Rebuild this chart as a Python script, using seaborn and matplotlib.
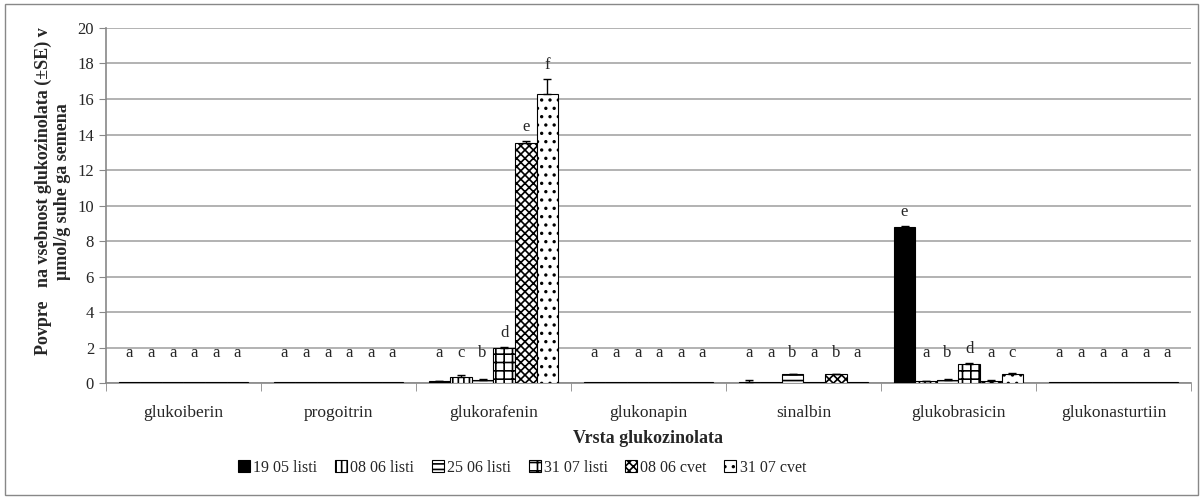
import numpy as np
import pandas as pd
import matplotlib
matplotlib.use('Agg')
import matplotlib.pyplot as plt
import seaborn as sns
from matplotlib.patches import Rectangle, Patch

# Data
categories = ['glukoiberin', 'progoitrin', 'glukorafenin', 'glukonapin',
              'sinalbin', 'glukobrasicin', 'glukonasturtiin']
series = ['19 05 listi', '08 06 listi', '25 06 listi', '31 07 listi',
          '08 06 cvet', '31 07 cvet']

v_1905_listi = [0.05, 0.05, 0.10, 0.05, 0.05, 8.80, 0.05]
v_0806_listi = [0.05, 0.05, 0.35, 0.05, 0.05, 0.10, 0.05]
v_2506_listi = [0.05, 0.05, 0.20, 0.05, 0.50, 0.20, 0.05]
v_3107_listi = [0.05, 0.05, 2.00, 0.05, 0.05, 1.10, 0.05]
v_0806_cvet = [0.05, 0.05, 13.50, 0.05, 0.50, 0.15, 0.05]
v_3107_cvet = [0.05, 0.05, 16.30, 0.05, 0.05, 0.50, 0.05]

e_1905_listi = [0, 0, 0.03, 0, 0.15, 0.05, 0]
e_0806_listi = [0, 0, 0.10, 0, 0, 0.03, 0]
e_2506_listi = [0, 0, 0.03, 0, 0.03, 0.03, 0]
e_3107_listi = [0, 0, 0.05, 0, 0, 0.05, 0]
e_0806_cvet = [0, 0, 0.15, 0, 0.03, 0.05, 0]
e_3107_cvet = [0, 0, 0.80, 0, 0, 0.05, 0]

l_1905_listi = ['a', 'a', 'a', 'a', 'a', 'e', 'a']
l_0806_listi = ['a', 'a', 'c', 'a', 'a', 'a', 'a']
l_2506_listi = ['a', 'a', 'b', 'a', 'b', 'b', 'a']
l_3107_listi = ['a', 'a', 'd', 'a', 'a', 'd', 'a']
l_0806_cvet = ['a', 'a', 'e', 'a', 'b', 'a', 'a']
l_3107_cvet = ['a', 'a', 'f', 'a', 'a', 'c', 'a']

values = [v_1905_listi, v_0806_listi, v_2506_listi, v_3107_listi, v_0806_cvet, v_3107_cvet]
errors = [e_1905_listi, e_0806_listi, e_2506_listi, e_3107_listi, e_0806_cvet, e_3107_cvet]
letters = [l_1905_listi, l_0806_listi, l_2506_listi, l_3107_listi, l_0806_cvet, l_3107_cvet]

faces = ['black', 'white', 'white', 'white', 'white', 'white']
hatches = ['', '|||', '---', '++', 'xxxx', '..']

rows = []
for s, vals in zip(series, values):
    for c, v in zip(categories, vals):
        rows.append({'kategorija': c, 'serija': s, 'vrednost': v})
df = pd.DataFrame(rows)

sns.set_style('white')
plt.rcParams['font.family'] = ['Liberation Serif', 'DejaVu Serif']
plt.rcParams['hatch.linewidth'] = 1.2

fig = plt.figure(figsize=(12.03, 4.99), dpi=100)
ax = fig.add_axes([0.088, 0.232, 0.902, 0.712])

sns.barplot(data=df, x='kategorija', y='vrednost', hue='serija',
            order=categories, hue_order=series, palette=faces,
            width=0.835, edgecolor='black', linewidth=0.8,
            errorbar=None, legend=False, ax=ax, zorder=3)

bar_conts = list(ax.containers)
for i, cont in enumerate(bar_conts):
    for j, bar in enumerate(cont.patches):
        bar.set_hatch(hatches[i])
        bar.set_facecolor(faces[i])
        bar.set_edgecolor('black')
        x = bar.get_x() + bar.get_width() / 2
        top = bar.get_height()
        err = errors[i][j]
        if err > 0:
            ax.errorbar(x, top, yerr=[[0], [err]], fmt='none', ecolor='black',
                        elinewidth=1, capsize=3, zorder=4)
        ly = max(top + err + 0.35, 1.25)
        ax.text(x, ly, letters[i][j], ha='center', va='bottom', fontsize=12)

ax.set_ylim(0, 20)
ax.set_xlim(-0.5, len(categories) - 0.5)
ax.set_yticks(np.arange(0, 21, 2))
ax.yaxis.grid(True, color='#a6a6a6', linewidth=1.2, zorder=0)
ax.set_axisbelow(True)
ax.tick_params(axis='y', labelsize=12, length=5, color='#888888', direction='out', left=True)
ax.tick_params(axis='x', labelsize=12.5, length=0, pad=16)
ax.set_xticks(np.arange(len(categories)))
ax.set_xticklabels(categories)
ax.set_xticks(np.arange(-0.5, len(categories)), minor=True)
ax.tick_params(axis='x', which='minor', length=6, color='#888888', direction='out', bottom=True)

for side in ['top', 'right']:
    ax.spines[side].set_visible(False)
for side in ['left', 'bottom']:
    ax.spines[side].set_color('#888888')
    ax.spines[side].set_linewidth(1.2)

ax.set_xlabel('Vrsta glukozinolata', fontsize=13, fontweight='bold', labelpad=6)
ax.set_ylabel('Povpre   na vsebnost glukozinolata (±SE) v\nµmol/g suhe ga semena',
              fontsize=13, fontweight='bold')
ax.yaxis.set_label_coords(-0.032, 0.54)

handles = [Patch(facecolor=f, edgecolor='black', hatch=h, linewidth=0.8)
           for f, h in zip(faces, hatches)]
fig.legend(handles, series, loc='center', bbox_to_anchor=(0.434, 0.063), ncol=6,
           frameon=False, fontsize=11.5, handlelength=0.75, handleheight=0.75,
           handletextpad=0.2, columnspacing=1.1)

fig.patches.append(Rectangle((0.004, 0.008), 0.992, 0.984, transform=fig.transFigure,
                             fill=False, edgecolor='#888888', linewidth=1.0))

fig.savefig('out.png', dpi=100)
